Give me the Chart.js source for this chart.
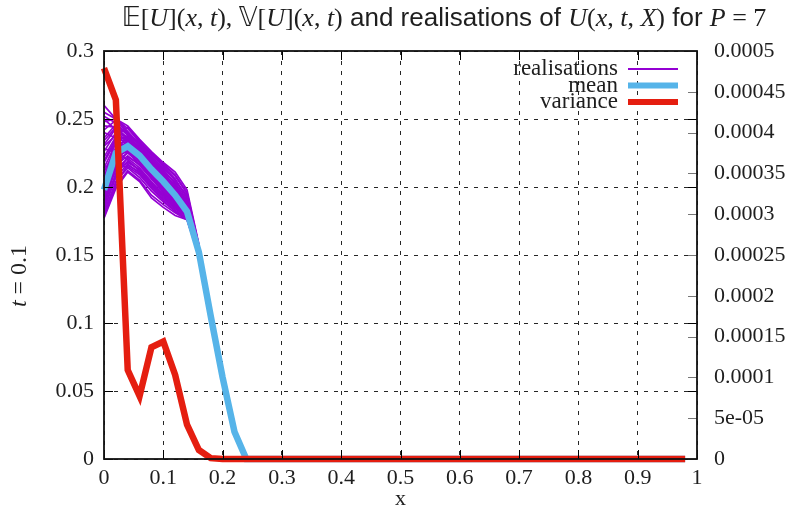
<!DOCTYPE html>
<html>
<head>
<meta charset="utf-8">
<script src="https://cdn.jsdelivr.net/npm/chart.js@4.4.1/dist/chart.umd.min.js"></script>
<style>
  body { margin: 0; background: #fff; }
</style>
</head>
<body>
<canvas id="chartU" width="807" height="510"></canvas>
<script>
// x grid of the solution
const xs = [
  0, 0.02, 0.04, 0.06, 0.08, 0.1, 0.12, 0.14, 0.16, 0.18,
  0.2, 0.22, 0.24, 0.26, 0.28, 0.3, 0.32, 0.34, 0.36, 0.38,
  0.4, 0.42, 0.44, 0.46, 0.48, 0.5, 0.52, 0.54, 0.56, 0.58,
  0.6, 0.62, 0.64, 0.66, 0.68, 0.7, 0.72, 0.74, 0.76, 0.78,
  0.8, 0.82, 0.84, 0.86, 0.88, 0.9, 0.92, 0.94, 0.96, 0.98,
];

// E[U](x,t)
const mean = [
  0.198, 0.225, 0.23, 0.223, 0.213, 0.204, 0.194, 0.182, 0.152, 0.105,
  0.06, 0.02, 0, 0, 0, 0, 0, 0, 0, 0,
  0, 0, 0, 0, 0, 0, 0, 0, 0, 0,
  0, 0, 0, 0, 0, 0, 0, 0, 0, 0,
  0, 0, 0, 0, 0, 0, 0, 0, 0, 0,
];

// V[U](x,t), right axis
const variance = [
  0.000479, 0.00044, 0.000109, 0.000077, 0.000137, 0.000144, 0.000103, 0.000042, 0.000011, 0.000001,
  0, 0, 0, 0, 0, 0, 0, 0, 0, 0,
  0, 0, 0, 0, 0, 0, 0, 0, 0, 0,
  0, 0, 0, 0, 0, 0, 0, 0, 0, 0,
  0, 0, 0, 0, 0, 0, 0, 0, 0, 0,
];

// realisations U(x,t,X) on the first points of the grid (x = 0 .. 0.16)
const realisations = [
  [0.26, 0.25, 0.245, 0.235, 0.226, 0.218, 0.211, 0.198, 0.158],
  [0.255, 0.25, 0.243, 0.233, 0.224, 0.216, 0.208, 0.195, 0.157],
  [0.248, 0.25, 0.241, 0.231, 0.222, 0.214, 0.205, 0.193, 0.156],
  [0.242, 0.249, 0.24, 0.23, 0.221, 0.212, 0.203, 0.191, 0.156],
  [0.236, 0.246, 0.238, 0.229, 0.219, 0.21, 0.201, 0.19, 0.155],
  [0.231, 0.243, 0.24, 0.232, 0.223, 0.213, 0.202, 0.188, 0.155],
  [0.226, 0.24, 0.237, 0.228, 0.218, 0.208, 0.199, 0.187, 0.154],
  [0.222, 0.237, 0.236, 0.229, 0.22, 0.209, 0.198, 0.186, 0.154],
  [0.218, 0.234, 0.234, 0.227, 0.217, 0.206, 0.196, 0.185, 0.153],
  [0.214, 0.232, 0.233, 0.226, 0.215, 0.205, 0.195, 0.185, 0.153],
  [0.211, 0.229, 0.232, 0.225, 0.214, 0.203, 0.194, 0.184, 0.153],
  [0.208, 0.227, 0.231, 0.224, 0.213, 0.202, 0.193, 0.183, 0.152],
  [0.205, 0.225, 0.229, 0.222, 0.212, 0.201, 0.191, 0.182, 0.152],
  [0.202, 0.223, 0.228, 0.221, 0.211, 0.2, 0.19, 0.181, 0.152],
  [0.199, 0.221, 0.227, 0.22, 0.209, 0.199, 0.189, 0.181, 0.151],
  [0.196, 0.219, 0.225, 0.218, 0.208, 0.197, 0.188, 0.18, 0.151],
  [0.193, 0.216, 0.223, 0.216, 0.206, 0.196, 0.187, 0.179, 0.151],
  [0.19, 0.213, 0.221, 0.214, 0.204, 0.194, 0.186, 0.179, 0.15],
  [0.187, 0.21, 0.219, 0.212, 0.202, 0.193, 0.185, 0.178, 0.15],
  [0.184, 0.207, 0.217, 0.21, 0.2, 0.191, 0.184, 0.178, 0.15],
  [0.181, 0.204, 0.214, 0.207, 0.197, 0.189, 0.182, 0.177, 0.15],
  [0.178, 0.201, 0.212, 0.205, 0.194, 0.187, 0.181, 0.176, 0.149],
  [0.177, 0.199, 0.211, 0.204, 0.192, 0.185, 0.179, 0.176, 0.149],
  [0.24, 0.236, 0.226, 0.216, 0.207, 0.198, 0.189, 0.18, 0.152],
  [0.185, 0.218, 0.235, 0.23, 0.221, 0.211, 0.2, 0.187, 0.154],
  [0.228, 0.226, 0.22, 0.212, 0.203, 0.195, 0.188, 0.181, 0.151],
  [0.2, 0.238, 0.244, 0.234, 0.224, 0.215, 0.206, 0.192, 0.156],
  [0.25, 0.242, 0.232, 0.224, 0.216, 0.207, 0.199, 0.189, 0.154],
  [0.19, 0.226, 0.238, 0.233, 0.225, 0.217, 0.209, 0.196, 0.157],
  [0.215, 0.215, 0.215, 0.209, 0.199, 0.19, 0.183, 0.177, 0.15],
  [0.252, 0.247, 0.239, 0.228, 0.219, 0.211, 0.204, 0.194, 0.155],
  [0.234, 0.244, 0.236, 0.227, 0.216, 0.207, 0.198, 0.187, 0.153],
  [0.219, 0.236, 0.235, 0.228, 0.218, 0.21, 0.2, 0.189, 0.154],
  [0.207, 0.228, 0.233, 0.227, 0.218, 0.208, 0.198, 0.186, 0.153],
  [0.197, 0.222, 0.23, 0.224, 0.215, 0.206, 0.196, 0.184, 0.152],
  [0.188, 0.215, 0.226, 0.22, 0.211, 0.202, 0.193, 0.183, 0.152],
  [0.183, 0.209, 0.222, 0.217, 0.208, 0.199, 0.19, 0.181, 0.151],
  [0.179, 0.203, 0.216, 0.211, 0.201, 0.192, 0.185, 0.178, 0.15],
  [0.245, 0.244, 0.234, 0.225, 0.213, 0.203, 0.193, 0.183, 0.152],
  [0.23, 0.238, 0.231, 0.222, 0.211, 0.2, 0.19, 0.18, 0.151],
  [0.212, 0.224, 0.226, 0.219, 0.207, 0.196, 0.186, 0.179, 0.15],
  [0.194, 0.212, 0.218, 0.213, 0.203, 0.194, 0.186, 0.18, 0.151],
];

const xTickLabels = ["0", "0.1", "0.2", "0.3", "0.4", "0.5", "0.6", "0.7", "0.8", "0.9", "1"];
const yTickLabels = ["0", "0.05", "0.1", "0.15", "0.2", "0.25", "0.3"];
const y2TickLabels = [
  "0", "5e-05", "0.0001", "0.00015", "0.0002", "0.00025",
  "0.0003", "0.00035", "0.0004", "0.00045", "0.0005",
];

const legendLabels = ["realisations", "mean", "variance"];

const COR_REAL = "#9400d3";
const COR_MEDIA = "#56b4e9";
const COR_VAR = "#e51e10";
const TEXTO = "#1e1e1e";

// title pieces: i = math italic, r = roman, s = sans
const tituloPartes = [
  ["𝔼", "r"], ["[", "r"], ["U", "i"], ["](", "r"], ["x", "i"], [", ", "r"], ["t", "i"], ["), ", "r"],
  ["𝕍", "r"], ["[", "r"], ["U", "i"], ["](", "r"], ["x", "i"], [", ", "r"], ["t", "i"], [")", "r"],
  [" and realisations of ", "s"],
  ["U", "i"], ["(", "r"], ["x", "i"], [", ", "r"], ["t", "i"], [", ", "r"], ["X", "i"], [")", "r"],
  [" for ", "s"], ["P", "i"], [" = 7", "r"],
];
const yTituloPartes = [["t", "i"], [" = 0.1", "r"]];

function fonte(tipo, tam) {
  if (tipo === "i") return `italic ${tam}px "Liberation Serif", "DejaVu Serif", serif`;
  if (tipo === "s") return `${tam}px "Liberation Sans", "DejaVu Sans", sans-serif`;
  return `${tam}px "Liberation Serif", "DejaVu Sans", serif`;
}

function larguraPartes(ctx, partes, tam) {
  let w = 0;
  partes.forEach(([txt, tipo]) => {
    ctx.font = fonte(tipo, tam);
    w += ctx.measureText(txt).width;
  });
  return w;
}

function desenharPartes(ctx, partes, x, y, tam) {
  ctx.textAlign = "left";
  ctx.textBaseline = "alphabetic";
  partes.forEach(([txt, tipo]) => {
    ctx.font = fonte(tipo, tam);
    ctx.fillText(txt, x, y);
    x += ctx.measureText(txt).width;
  });
}

const pontos = (valores) => valores.map((v, i) => ({ x: xs[i], y: v }));

const datasets = realisations.map((r, k) => ({
  label: k === 0 ? legendLabels[0] : "",
  data: pontos(r),
  yAxisID: "y",
  borderColor: COR_REAL,
  borderWidth: 1.7,
  pointRadius: 0,
  tension: 0,
  clip: false,
  order: 2,
}));

datasets.push({
  label: legendLabels[1],
  data: pontos(mean),
  yAxisID: "y",
  borderColor: COR_MEDIA,
  borderWidth: 6.5,
  pointRadius: 0,
  tension: 0,
  clip: false,
  order: 1,
});

datasets.push({
  label: legendLabels[2],
  data: pontos(variance),
  yAxisID: "y1",
  borderColor: COR_VAR,
  borderWidth: 6.5,
  pointRadius: 0,
  tension: 0,
  clip: false,
  order: 0,
});

// frame, inward ticks, titles and key
const decoracao = {
  id: "decoracao",
  afterDraw(chart) {
    const { ctx, chartArea: a, scales } = chart;
    const tick = 9;
    ctx.save();

    ctx.lineWidth = 1;
    ctx.strokeStyle = "#000";
    ctx.beginPath();
    scales.x.ticks.forEach((t) => {
      const px = Math.round(scales.x.getPixelForValue(t.value)) + 0.5;
      ctx.moveTo(px, a.bottom);
      ctx.lineTo(px, a.bottom - tick);
      ctx.moveTo(px, a.top);
      ctx.lineTo(px, a.top + tick);
    });
    scales.y.ticks.forEach((t) => {
      const py = Math.round(scales.y.getPixelForValue(t.value)) + 0.5;
      ctx.moveTo(a.left, py);
      ctx.lineTo(a.left + tick, py);
      ctx.moveTo(a.right, py);
      ctx.lineTo(a.right - tick, py);
    });
    ctx.stroke();

    ctx.strokeStyle = "#777";
    ctx.beginPath();
    scales.y1.ticks.forEach((t) => {
      const py = Math.round(scales.y1.getPixelForValue(t.value)) + 0.5;
      ctx.moveTo(a.right, py);
      ctx.lineTo(a.right - tick, py);
    });
    ctx.stroke();

    ctx.lineWidth = 1.8;
    ctx.strokeStyle = "#111";
    ctx.strokeRect(a.left, a.top, a.right - a.left, a.bottom - a.top);

    ctx.fillStyle = TEXTO;

    // title
    const tamT = 26;
    const wT = larguraPartes(ctx, tituloPartes, tamT);
    desenharPartes(ctx, tituloPartes, 444 - wT / 2, 26, tamT);

    // y axis title
    const tamY = 24;
    const wY = larguraPartes(ctx, yTituloPartes, tamY);
    ctx.save();
    ctx.translate(26, 276);
    ctx.rotate(-Math.PI / 2);
    desenharPartes(ctx, yTituloPartes, -wY / 2, 0, tamY);
    ctx.restore();

    // x axis title
    ctx.font = fonte("r", 22);
    ctx.textAlign = "center";
    ctx.textBaseline = "middle";
    ctx.fillText("x", (a.left + a.right) / 2, 499);

    // key
    const linhas = [
      { ds: chart.data.datasets[0], y: 69, w: 1.8 },
      { ds: chart.data.datasets[realisations.length], y: 85.5, w: 6 },
      { ds: chart.data.datasets[realisations.length + 1], y: 102, w: 6 },
    ];
    linhas.forEach(({ ds, y, w }) => {
      ctx.font = fonte("r", 23);
      ctx.textAlign = "right";
      ctx.textBaseline = "middle";
      ctx.fillStyle = TEXTO;
      ctx.fillText(ds.label, 618, y);
      ctx.strokeStyle = ds.borderColor;
      ctx.lineWidth = w;
      ctx.beginPath();
      ctx.moveTo(628, y);
      ctx.lineTo(678, y);
      ctx.stroke();
    });

    ctx.restore();
  },
};

const fonteTicks = { family: '"Liberation Serif", "DejaVu Serif", serif', size: 22 };
const grade = { color: "rgba(0,0,0,0.85)", lineWidth: 1, drawTicks: false };

new Chart(document.getElementById("chartU").getContext("2d"), {
  type: "line",
  data: { datasets: datasets },
  options: {
    responsive: false,
    animation: false,
    events: [],
    layout: { padding: { top: 51, left: 0, right: 0, bottom: 0 } },
    plugins: {
      legend: { display: false },
      title: { display: false },
      tooltip: { enabled: false },
    },
    scales: {
      x: {
        type: "linear",
        min: 0,
        max: 1,
        afterFit: (s) => { s.height = 51; },
        ticks: {
          stepSize: 0.1,
          autoSkip: false,
          maxRotation: 0,
          padding: 6,
          color: TEXTO,
          font: fonteTicks,
          callback: (v, i) => xTickLabels[i],
        },
        grid: grade,
        border: { display: false, dash: [4, 6] },
      },
      y: {
        position: "left",
        min: 0,
        max: 0.3,
        afterFit: (s) => { s.width = 104; },
        ticks: {
          stepSize: 0.05,
          padding: 10,
          color: TEXTO,
          font: fonteTicks,
          callback: (v, i) => yTickLabels[i],
        },
        grid: grade,
        border: { display: false, dash: [4, 6] },
      },
      y1: {
        position: "right",
        min: 0,
        max: 0.0005,
        afterFit: (s) => { s.width = 110; },
        ticks: {
          stepSize: 0.00005,
          padding: 17,
          color: TEXTO,
          font: fonteTicks,
          callback: (v, i) => y2TickLabels[i],
        },
        grid: { display: false, drawTicks: false },
        border: { display: false },
      },
    },
  },
  plugins: [decoracao],
});
</script>
</body>
</html>
